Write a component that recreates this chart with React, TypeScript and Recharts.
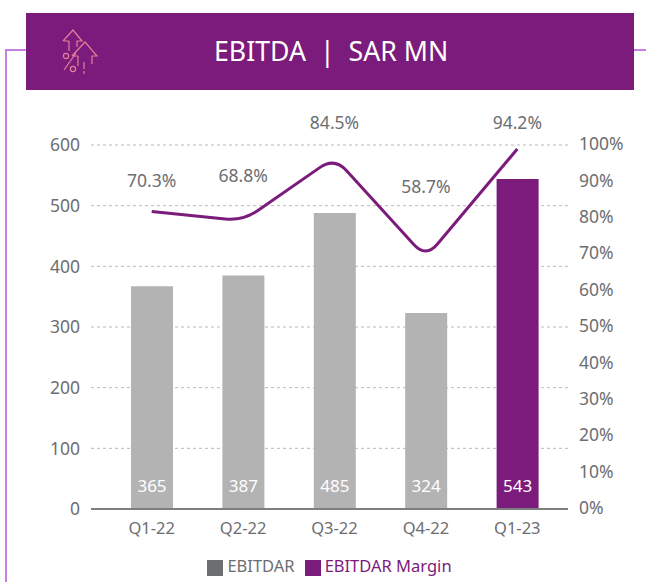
import React from "react";
import { ComposedChart, Bar, Line, XAxis, YAxis, CartesianGrid, Cell, LabelList, Legend } from "recharts";

const quarters = ["Q1-22", "Q2-22", "Q3-22", "Q4-22", "Q1-23"];
const ebitdar = [367, 385, 488, 323, 544];
const ebitdarLabels = ["365", "387", "485", "324", "543"];
const marginPlotted = [81.7, 79.2, 96.6, 69, 98.9];
const marginLabels = ["70.3%", "68.8%", "84.5%", "58.7%", "94.2%"];
const leftTicks = [0, 100, 200, 300, 400, 500, 600];
const rightTicks = [0, 10, 20, 30, 40, 50, 60, 70, 80, 90, 100];

const labelLift = [32, 46, 35, 72, 27];
const CORNER = 18;
const PURPLE = "#7b1b7b";
const GRAY = "#6d6e71";
const LILAC = "#c77fe6";
const FONT = "'Noto Sans', sans-serif";

const data = quarters.map((q, i) => ({ q, EBITDAR: ebitdar[i], "EBITDAR Margin": marginPlotted[i] }));

// Straight segments joined by rounded corners, as the reference line is drawn.
const roundedCorners = (ctx: any) => {
  let pts: [number, number][] = [];
  return {
    areaStart() {},
    areaEnd() {},
    lineStart() { pts = []; },
    point(x: number, y: number) { pts.push([+x, +y]); },
    lineEnd() {
      pts.forEach((p, i) => {
        if (i === 0) { ctx.moveTo(p[0], p[1]); return; }
        if (i === pts.length - 1) { ctx.lineTo(p[0], p[1]); return; }
        const a = pts[i - 1], b = pts[i + 1];
        const la = Math.hypot(a[0] - p[0], a[1] - p[1]);
        const lb = Math.hypot(b[0] - p[0], b[1] - p[1]);
        ctx.lineTo(p[0] + ((a[0] - p[0]) * CORNER) / la, p[1] + ((a[1] - p[1]) * CORNER) / la);
        ctx.quadraticCurveTo(p[0], p[1], p[0] + ((b[0] - p[0]) * CORNER) / lb, p[1] + ((b[1] - p[1]) * CORNER) / lb);
      });
    },
  };
};

const MarginLabel = (p: any) => (
  <text x={p.x} y={p.y - labelLift[p.index]} textAnchor="middle" dominantBaseline="central" fontSize={17.5} fill={GRAY} fontFamily={FONT}>
    {marginLabels[p.index]}
  </text>
);
const BarLabel = (p: any) => (
  <text x={p.x + p.width / 2} y={p.y + p.height - 24} textAnchor="middle" dominantBaseline="central" fontSize={17} fill="#fff" fontFamily={FONT}>
    {ebitdarLabels[p.index]}
  </text>
);

const Icon = () => (
  <svg width={36} height={46} viewBox="0 0 36 46" style={{ position: "absolute", left: 62, top: 29 }} fill="none" stroke="#e77f9a" strokeWidth={1.2}>
    <path d="M1 12 L11 1 L20 12 H15 V18 M7 12 H2 M7 12 V22" />
    <path d="M10 27 L23 13 L35 27 H30 V35 M16 27 H11 M16 27 V37 M22 33 V40 M22 42 V45" />
    <circle cx={4} cy={27} r={2.6} />
    <circle cx={11} cy={40} r={2.6} />
    <path d="M2 41 L14 24" />
  </svg>
);

export default function App() {
  return (
    <div style={{ position: "absolute", left: 0, top: 0, width: 646, height: 582, background: "#fff", overflow: "hidden" }}>
      <div style={{ position: "absolute", left: 5, top: 49, width: 30, height: 533, borderLeft: `2px solid ${LILAC}`, borderTop: `2px solid ${LILAC}`, boxSizing: "border-box" }} />
      <div style={{ position: "absolute", left: 625, top: 49, width: 21, height: 2, background: LILAC }} />
      <div style={{ position: "absolute", left: 26, top: 13, width: 608, height: 77, background: PURPLE }} />
      <Icon />
      <div style={{ position: "absolute", left: 214, top: 35, color: "#fff", fontFamily: FONT, fontSize: 26.7, lineHeight: "32px", whiteSpace: "pre" }}>EBITDA  |  SAR MN</div>
      <div style={{ position: "absolute", left: 0, top: 0 }}>
        <ComposedChart width={646} height={582} data={data} margin={{ top: 145, left: 31, right: 0, bottom: 23 }}>
          <CartesianGrid vertical={false} stroke="#b9b9b9" strokeDasharray="3 3" yAxisId="left" />
          <XAxis dataKey="q" axisLine={{ stroke: "#7f7f7f", strokeWidth: 2 }} tickLine={false} height={30} padding={{ left: 15, right: 5 }} tick={{ fontSize: 16.5, fill: GRAY, fontFamily: FONT }} tickMargin={7} />
          <YAxis yAxisId="left" domain={[0, 600]} ticks={leftTicks} width={60} axisLine={false} tickLine={false} tickMargin={5} tick={{ fontSize: 17.5, fill: GRAY, fontFamily: FONT }} />
          <YAxis yAxisId="right" orientation="right" domain={[0, 100]} ticks={rightTicks} width={78} axisLine={false} tickLine={false} tickMargin={5} tickFormatter={(v: number) => `${v}%`} tick={{ fontSize: 17.5, fill: GRAY, fontFamily: FONT, dy: -1 }} />
          <Bar yAxisId="left" dataKey="EBITDAR" barSize={42} fill={GRAY} isAnimationActive={false}>
            {quarters.map((q, i) => <Cell key={q} fill={i === 4 ? PURPLE : "#b3b3b4"} />)}
            <LabelList content={BarLabel} />
          </Bar>
          <Line yAxisId="right" dataKey="EBITDAR Margin" type={roundedCorners as any} stroke={PURPLE} strokeWidth={3} dot={false} isAnimationActive={false}>
            <LabelList content={MarginLabel} />
          </Line>
          <Legend iconType="square" iconSize={16} verticalAlign="bottom" height={20} wrapperStyle={{ top: 554, left: 27 }}
            formatter={(v: string) => <span style={{ color: v === "EBITDAR" ? GRAY : PURPLE, fontFamily: FONT, fontSize: 16.5 }}>{v}</span>} />
        </ComposedChart>
      </div>
    </div>
  );
}
